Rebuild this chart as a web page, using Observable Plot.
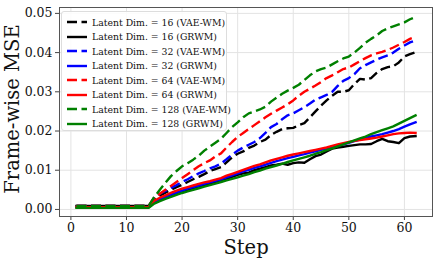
<!DOCTYPE html>
<html><head><meta charset="utf-8">
<script src="https://cdn.jsdelivr.net/npm/d3@7"></script>
<script src="https://cdn.jsdelivr.net/npm/@observablehq/plot@0.6"></script>
<style>
html,body{margin:0;padding:0;background:#fff;}
#wrap{position:relative;width:439px;height:263px;font-family:"DejaVu Serif",serif;}
#legend{position:absolute;left:61px;top:11px;width:166px;height:120px;background:rgba(255,255,255,0.85);border:1px solid #ddd;border-radius:3px;box-sizing:border-box;}
#legend .row{position:absolute;left:4px;height:12px;display:flex;align-items:center;font-size:9.3px;color:#111;white-space:nowrap;}
#legend svg{margin-right:4px;}
</style></head>
<body><div id="wrap"><div id="chart"></div><div id="legend"></div></div>
<script>
const steps = d3.range(1, 63);
const flat = v => Array(14).fill(v);
const vae16 = [...flat(0.0009),0.0025,0.0035,0.0043,0.0050,0.0057,0.0063,0.0070,0.0077,0.0083,0.0090,0.0098,0.0103,0.0108,0.0120,0.0133,0.0142,0.0148,0.0157,0.0163,0.0172,0.0178,0.0190,0.0198,0.0205,0.0207,0.0208,0.0215,0.0220,0.0235,0.0250,0.0265,0.0278,0.0290,0.0300,0.0300,0.0304,0.0320,0.0333,0.0331,0.0335,0.0348,0.0358,0.0363,0.0365,0.0375,0.0390,0.0396,0.0401];
const grwm16 = [...flat(0.0009),0.0018,0.0025,0.0030,0.0035,0.0040,0.0045,0.0050,0.0054,0.0058,0.0062,0.0066,0.0070,0.0074,0.0078,0.0083,0.0088,0.0092,0.0094,0.0100,0.0104,0.0108,0.0112,0.0114,0.0117,0.0114,0.0118,0.0120,0.0119,0.0128,0.0136,0.0140,0.0148,0.0155,0.0158,0.0160,0.0162,0.0164,0.0166,0.0166,0.0167,0.0174,0.0180,0.0174,0.0172,0.0169,0.0182,0.0186,0.0187];
const vae32 = [...flat(0.0009),0.0030,0.0040,0.0047,0.0055,0.0062,0.0070,0.0077,0.0085,0.0092,0.0098,0.0105,0.0110,0.0117,0.0128,0.0140,0.0150,0.0158,0.0165,0.0172,0.0182,0.0195,0.0210,0.0218,0.0230,0.0240,0.0245,0.0253,0.0261,0.0270,0.0280,0.0286,0.0292,0.0300,0.0315,0.0328,0.0335,0.0345,0.0360,0.0368,0.0375,0.0382,0.0388,0.0393,0.0400,0.0410,0.0418,0.0426,0.0431];
const grwm32 = [...flat(0.0006),0.0019,0.0026,0.0032,0.0038,0.0043,0.0048,0.0053,0.0057,0.0061,0.0065,0.0069,0.0073,0.0077,0.0082,0.0087,0.0092,0.0097,0.0101,0.0106,0.0110,0.0114,0.0119,0.0123,0.0127,0.0131,0.0134,0.0138,0.0141,0.0145,0.0148,0.0152,0.0155,0.0158,0.0162,0.0166,0.0170,0.0174,0.0178,0.0182,0.0186,0.0189,0.0192,0.0196,0.0200,0.0205,0.0211,0.0217,0.0222];
const vae64 = [...flat(0.0009),0.0030,0.0040,0.0050,0.0060,0.0070,0.0080,0.0090,0.0100,0.0110,0.0118,0.0125,0.0135,0.0143,0.0158,0.0172,0.0185,0.0195,0.0205,0.0215,0.0225,0.0235,0.0244,0.0252,0.0260,0.0268,0.0278,0.0290,0.0300,0.0308,0.0316,0.0325,0.0335,0.0342,0.0350,0.0358,0.0362,0.0370,0.0378,0.0386,0.0393,0.0398,0.0402,0.0407,0.0413,0.0420,0.0427,0.0435,0.0440];
const grwm64 = [...flat(0.0006),0.0022,0.0030,0.0036,0.0042,0.0048,0.0053,0.0057,0.0061,0.0065,0.0069,0.0072,0.0076,0.0080,0.0086,0.0091,0.0096,0.0101,0.0106,0.0111,0.0115,0.0120,0.0125,0.0129,0.0133,0.0137,0.0140,0.0143,0.0146,0.0149,0.0152,0.0155,0.0158,0.0162,0.0166,0.0169,0.0172,0.0175,0.0177,0.0179,0.0181,0.0183,0.0186,0.0189,0.0192,0.0194,0.0195,0.0196,0.0195];
const vae128 = [...flat(0.0009),0.0032,0.0050,0.0068,0.0085,0.0098,0.0110,0.0118,0.0127,0.0137,0.0150,0.0160,0.0170,0.0180,0.0195,0.0210,0.0222,0.0235,0.0245,0.0250,0.0255,0.0262,0.0275,0.0285,0.0295,0.0303,0.0310,0.0318,0.0330,0.0342,0.0352,0.0358,0.0362,0.0370,0.0378,0.0385,0.0390,0.0400,0.0412,0.0425,0.0435,0.0444,0.0455,0.0462,0.0467,0.0472,0.0477,0.0485,0.0491];
const grwm128 = [...flat(0.0004),0.0015,0.0021,0.0027,0.0032,0.0037,0.0042,0.0046,0.0050,0.0054,0.0058,0.0062,0.0066,0.0070,0.0074,0.0078,0.0082,0.0086,0.0090,0.0095,0.0099,0.0104,0.0108,0.0112,0.0116,0.0121,0.0125,0.0129,0.0133,0.0137,0.0142,0.0146,0.0151,0.0156,0.0161,0.0166,0.0171,0.0176,0.0181,0.0186,0.0192,0.0197,0.0202,0.0207,0.0212,0.0219,0.0226,0.0233,0.0240];

const seriesNames = ["Latent Dim. = 16 (VAE-WM)","Latent Dim. = 16 (GRWM)","Latent Dim. = 32 (VAE-WM)","Latent Dim. = 32 (GRWM)","Latent Dim. = 64 (VAE-WM)","Latent Dim. = 64 (GRWM)","Latent Dim. = 128 (VAE-WM)","Latent Dim. = 128 (GRWM)"];
const seriesValues = [vae16, grwm16, vae32, grwm32, vae64, grwm64, vae128, grwm128];
const seriesColors = ["#000000","#000000","#0000ff","#0000ff","#ff0000","#ff0000","#008000","#008000"];
const seriesDashed = [true,false,true,false,true,false,true,false];
const xTicks = [0,10,20,30,40,50,60];
const yTicks = [0,0.01,0.02,0.03,0.04,0.05];

const DASH = "10,4.5";
const marks = [
  Plot.gridX(xTicks, {stroke:"#e3e3e3", strokeOpacity:1}),
  Plot.gridY(yTicks, {stroke:"#e3e3e3", strokeOpacity:1}),
];
seriesValues.forEach((vals, i) => {
  const rows = steps.map((s, j) => ({step: s, v: vals[j]}));
  marks.push(Plot.line(rows, {x:"step", y:"v", stroke: seriesColors[i], strokeWidth: 2.4,
    strokeDasharray: seriesDashed[i] ? DASH : null, strokeLinejoin:"round", strokeLinecap: seriesDashed[i] ? "butt" : "square"}));
});
marks.push(
  Plot.axisX(xTicks, {tickSize:4, tickPadding:3, fontSize:12.5, stroke:"#444", label:null}),
  Plot.axisY(yTicks, {tickSize:4, tickPadding:3, fontSize:12.5, stroke:"#444", tickFormat:d3.format(".2f"), label:null}),
  Plot.frame({stroke:"#555", strokeWidth:1})
);

const chart = Plot.plot({
  width: 439, height: 263,
  marginLeft: 59, marginRight: 7, marginTop: 7, marginBottom: 47,
  style: {fontFamily: '"DejaVu Serif", serif', color:"#111", background:"#fff", overflow:"visible"},
  x: {domain: [-2.05, 65.05]},
  y: {domain: [-0.0018, 0.0515]},
  marks
});
document.getElementById("chart").appendChild(chart);

// axis titles
const svg = d3.select(chart);
svg.append("text").attr("x", 246).attr("y", 254).attr("text-anchor","middle")
  .attr("font-size", 19.5).attr("fill","#111").text("Step");
svg.append("text").attr("transform","translate(19,109) rotate(-90)").attr("text-anchor","middle")
  .attr("font-size", 19.5).attr("fill","#111").text("Frame-wise MSE");

// legend
const leg = document.getElementById("legend");
seriesNames.forEach((name, i) => {
  const row = document.createElement("div");
  row.className = "row";
  row.style.top = (4 + i * 14.5) + "px";
  row.innerHTML = `<svg width="22" height="6"><line x1="1" y1="3" x2="21" y2="3" stroke="${seriesColors[i]}" stroke-width="2.4" ${seriesDashed[i] ? `stroke-dasharray="${DASH}"` : ""}/></svg><span>${name}</span>`;
  leg.appendChild(row);
});
</script></body></html>
